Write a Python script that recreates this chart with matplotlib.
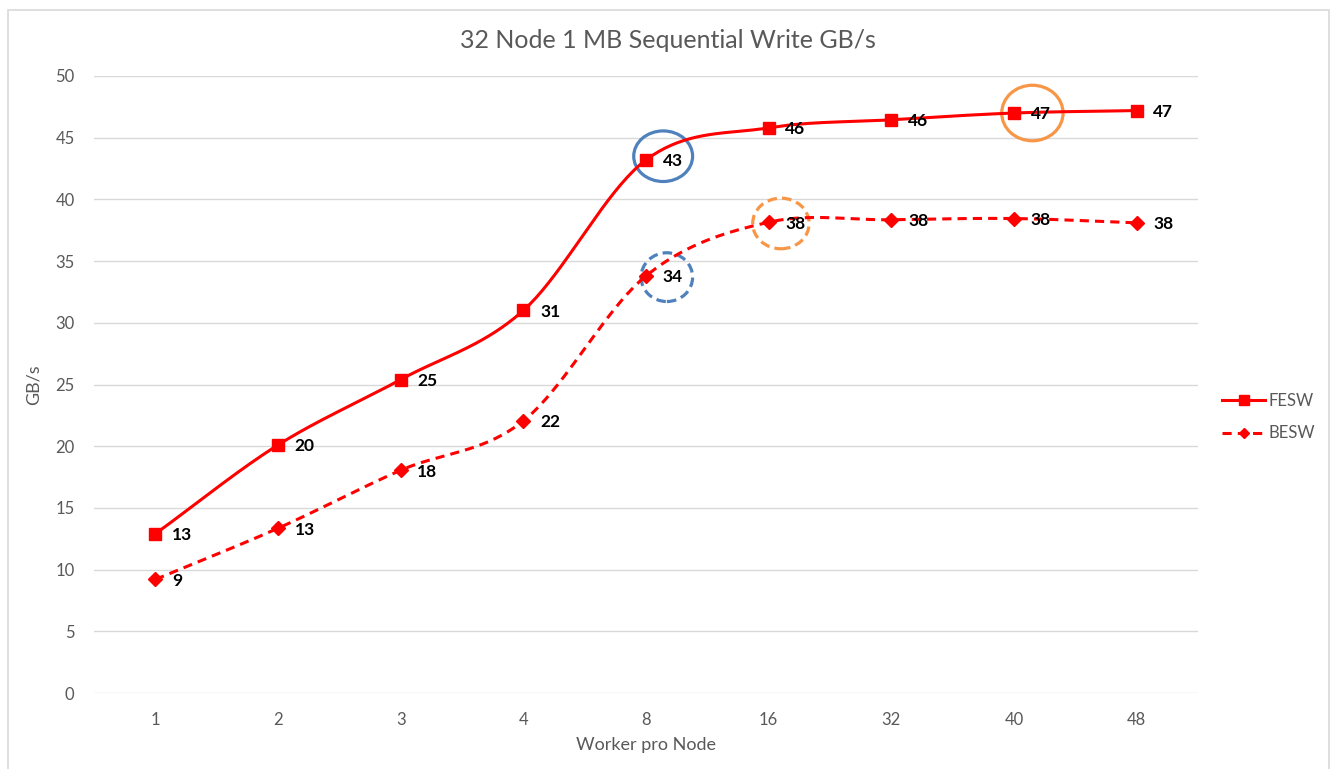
import numpy as np
import matplotlib
matplotlib.use("Agg")
from matplotlib import pyplot as plt
from matplotlib.patches import Ellipse, Rectangle

plt.rcParams['font.family'] = ['Lato', 'DejaVu Sans']

workers = ["1", "2", "3", "4", "8", "16", "32", "40", "48"]
fesw = [12.9, 20.1, 25.4, 31.0, 43.2, 45.8, 46.45, 47.0, 47.2]
besw = [9.2, 13.35, 18.05, 22.05, 33.8, 38.15, 38.35, 38.45, 38.1]

text_gray = "#595959"
grid_gray = "#D9D9D9"


def smooth(xs, ys, steps=40):
    # Catmull-Rom spline through the points, like Excel's smoothed line
    xs = np.asarray(xs, float)
    ys = np.asarray(ys, float)
    px = np.concatenate([[2 * xs[0] - xs[1]], xs, [2 * xs[-1] - xs[-2]]])
    py = np.concatenate([[2 * ys[0] - ys[1]], ys, [2 * ys[-1] - ys[-2]]])
    out_x, out_y = [], []
    for i in range(1, len(px) - 2):
        t = np.linspace(0, 1, steps)
        for p, out in ((px, out_x), (py, out_y)):
            p0, p1, p2, p3 = p[i - 1], p[i], p[i + 1], p[i + 2]
            out.extend(0.5 * (2 * p1 + (-p0 + p2) * t
                              + (2 * p0 - 5 * p1 + 4 * p2 - p3) * t ** 2
                              + (-p0 + 3 * p1 - 3 * p2 + p3) * t ** 3))
    return np.array(out_x), np.array(out_y)


fig = plt.figure(figsize=(13.35, 7.69), dpi=100)
ax = fig.add_axes([94 / 1335, 76 / 769, 1104 / 1335, 617 / 769])

x = np.arange(len(workers))

sx, sy = smooth(x, fesw)
ax.plot(sx, sy, color="red", lw=2.2, solid_capstyle="round")
ax.plot(x, fesw, ls="none", marker="s", ms=8.5, color="red")

bx, by = smooth(x, besw)
ax.plot(bx, by, color="red", lw=2.2, ls=(0, (3, 2)))
ax.plot(x, besw, ls="none", marker="D", ms=7, color="red")

for xi, v in zip(x, fesw):
    ax.annotate(f"{round(v)}", (xi, v), xytext=(12, -1), textcoords="offset points",
                ha="left", va="center", fontsize=12.5, fontweight="bold", color="black")
for xi, v in zip(x, besw):
    ax.annotate(f"{round(v)}", (xi, v), xytext=(12, -1), textcoords="offset points",
                ha="left", va="center", fontsize=12.5, fontweight="bold", color="black")

# highlight rings around the points of interest
rings = [
    (4, fesw[4], 0.14, 0.3, 0.48, 4.1, "#4F81BD", "-"),
    (4, besw[4], 0.17, -0.1, 0.42, 3.95, "#4F81BD", "--"),
    (5, besw[5], 0.10, -0.1, 0.46, 4.1, "#F79646", "--"),
    (7, fesw[7], 0.15, 0.0, 0.50, 4.5, "#F79646", "-"),
]
for xi, v, dx, dy, w, h, c, ls in rings:
    ax.add_patch(Ellipse((xi + dx, v + dy), w, h, fill=False, edgecolor=c,
                         lw=2.3, ls=ls if ls == "-" else (0, (3, 1.6))))

# legend handles
ax.plot([], [], color="red", lw=2.2, marker="s", ms=7, label="FESW")
ax.plot([], [], color="red", lw=2.2, ls=(0, (3, 2)), marker="D", ms=5, label="BESW")
handles, labels = ax.get_legend_handles_labels()
leg = fig.legend(handles[-2:], labels[-2:], loc="center left",
                 bbox_to_anchor=(1207 / 1335, 1 - 417 / 769), frameon=False,
                 fontsize=12, labelcolor=text_gray, handlelength=2.6,
                 handletextpad=0.2, labelspacing=1.0)

ax.set_xlim(-0.5, len(workers) - 0.5)
ax.set_ylim(0, 50)
ax.set_yticks(np.arange(0, 51, 5))
ax.set_xticks(x)
ax.set_xticklabels(workers)
ax.tick_params(length=0, labelsize=12, colors=text_gray)
ax.tick_params(axis="x", pad=14)
ax.tick_params(axis="y", pad=14)
ax.grid(axis="y", color=grid_gray, lw=1)
ax.set_axisbelow(True)
for s in ax.spines.values():
    s.set_visible(False)

ax.set_xlabel("Worker pro Node", fontsize=13, color=text_gray, labelpad=6)
ax.set_ylabel("GB/s", fontsize=13, color=text_gray, labelpad=10)
fig.text(668 / 1335, 1 - 40 / 769, "32 Node 1 MB Sequential Write GB/s",
         ha="center", va="center", fontsize=18, color=text_gray)

fig.patches.append(Rectangle((8 / 1335, -0.05), 1321 / 1335, 1.05 - 10 / 769,
                             transform=fig.transFigure, fill=False,
                             edgecolor="#D9D9D9", lw=1.2))

fig.savefig("out.png", dpi=100)
